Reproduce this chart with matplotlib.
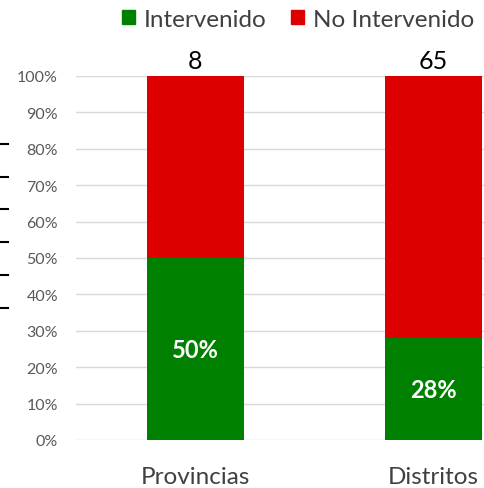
import matplotlib
matplotlib.use('agg')
import matplotlib.pyplot as plt
from matplotlib.lines import Line2D
from matplotlib.patches import Patch

categories = ["Provincias", "Distritos"]
intervenido = [50, 28]
no_intervenido = [50, 72]
totals = ["8", "65"]
yticks = [0, 10, 20, 30, 40, 50, 60, 70, 80, 90, 100]

green = "#008000"
red = "#dd0000"
font = "Lato"

W, H = 485, 489
fig = plt.figure(figsize=(W / 100, H / 100), dpi=100)
# plot area runs past the right edge of the picture (cropped chart)
ax = fig.add_axes([76 / W, 1 - 441 / H, 477 / W, 364 / H])

x = [0, 1]
ax.bar(x, intervenido, width=0.405, color=green, zorder=3)
ax.bar(x, no_intervenido, width=0.405, bottom=intervenido, color=red, zorder=3)
ax.set_xlim(-0.5, 1.5)
ax.set_ylim(0, 100)

ax.set_yticks(yticks)
ax.set_yticklabels([f"{v}%" for v in yticks], fontsize=11.5, color="#595959", family=font)
ax.tick_params(axis="y", length=0, pad=13)
ax.set_xticks(x)
ax.set_xticklabels(categories, fontsize=17.5, color="#404040", family=font)
ax.tick_params(axis="x", length=0, pad=19)
ax.grid(axis="y", color="#d9d9d9", linewidth=1, zorder=0)
for s in ax.spines.values():
    s.set_visible(False)

for i in x:
    ax.text(i, intervenido[i] / 2, f"{intervenido[i]}%", ha="center", va="center",
            color="white", fontsize=17, fontweight="bold", family=font, zorder=4)
    ax.text(i, 101.2, totals[i], ha="center", va="bottom", color="black",
            fontsize=18, family=font)

handles = [Patch(color=green, label="Intervenido"), Patch(color=red, label="No Intervenido")]
fig.legend(handles=handles, loc="upper center", bbox_to_anchor=(298 / W, 1.025), ncol=2,
           frameon=False, prop={"family": font, "size": 17.5}, handlelength=0.55,
           handleheight=0.55, handletextpad=0.35, columnspacing=1.0, labelcolor="#404040")

# short black marks at the left edge of the picture
for yp in [145, 178, 210, 243, 276, 309]:
    fig.add_artist(Line2D([0, 8 / W], [1 - yp / H, 1 - yp / H], color="black", linewidth=1.5))

fig.savefig("out.png", dpi=100)
